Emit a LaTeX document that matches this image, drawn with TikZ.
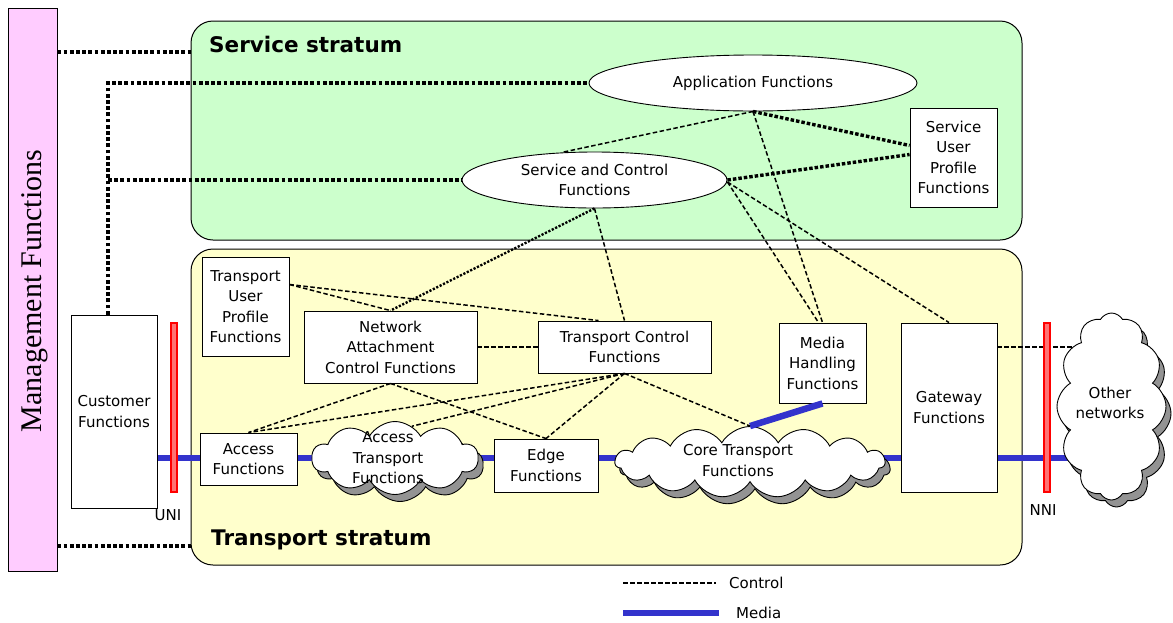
\documentclass[tikz,border=0pt]{standalone}
\usepackage{fontspec}
\setmainfont{DejaVu Sans}
\newfontfamily\mgmtserif{Liberation Serif}
\usetikzlibrary{shapes.geometric,shapes.symbols,shadows}
\definecolor{svcgreen}{HTML}{CCFFCC}
\definecolor{trsyellow}{HTML}{FFFFCC}
\definecolor{mgmtpink}{HTML}{FFCCFF}
\definecolor{mediablue}{HTML}{3333CC}
\pgfdeclarelayer{back}
\pgfdeclarelayer{mid}
\pgfsetlayers{back,mid,main}
\tikzset{
  txt/.style={font=\fontsize{15}{20.5}\selectfont, align=center},
  box/.style={txt, rectangle, draw=black, line width=0.9pt, fill=white, inner sep=0pt},
  oval/.style={txt, ellipse, draw=black, line width=0.9pt, fill=white, inner sep=0pt},
  stratum/.style={rectangle, draw=black, line width=1pt, rounded corners=22pt, inner sep=0pt},
  title/.style={font=\fontsize{21.5}{24}\selectfont\bfseries, anchor=base west, inner sep=0pt},
  cloudy/.style={cloud, cloud puffs=#1, cloud puff arc=120, cloud ignores aspect, draw=black, line width=0.9pt, fill=white, inner sep=0pt,
     drop shadow={shadow xshift=5pt, shadow yshift=-7pt, fill=gray!85, draw=black, opacity=1}},
  mgmtline/.style={line width=4pt, dash pattern=on 3.8pt off 2.4pt},
  ctrl/.style={line width=1.5pt, dash pattern=on 4.5pt off 2.5pt},
  heavy/.style={line width=3.4pt, dash pattern=on 3.5pt off 2pt},
  rounddot/.style={line width=2.4pt, dash pattern=on 2.2pt off 1.6pt},
  thickdash/.style={line width=2.2pt, dash pattern=on 4.5pt off 2.5pt},
  media/.style={line width=6.5pt, draw=mediablue},
  iface/.style={rectangle, draw=red, line width=1.6pt, fill=red!55, minimum width=5.5pt, inner sep=0pt},
}
\begin{document}
\begin{tikzpicture}[x=1pt, y=-1pt]
\useasboundingbox (0,0) rectangle (1173,622);

% strata
\begin{pgfonlayer}{back}
  \node[stratum, fill=svcgreen, minimum width=831, minimum height=219] (svc) at (606.5,130.5) {};
  \node[stratum, fill=trsyellow, minimum width=831, minimum height=316] (trs) at (606.5,407) {};
\end{pgfonlayer}
\node[title] (svctitle) at (209,52) {Service stratum};
\node[title] (trstitle) at (211,545) {Transport stratum};

% management
\node[rectangle, draw=black, line width=0.9pt, fill=mgmtpink, minimum width=49, minimum height=563, inner sep=0pt] (mgmt) at (32.5,289.5) {};
\node[rotate=90, inner sep=0pt, font=\mgmtserif\fontsize{30}{32}\selectfont] (mgmttext) at (35,291) {Management Functions};

% service stratum nodes
\node[oval, minimum width=328, minimum height=56] (app) at (753,83) {Application Functions};
\node[oval, minimum width=265, minimum height=56] (scf) at (594.5,180) {Service and Control\\Functions};
\node[box, minimum width=87, minimum height=99] (supf) at (953.5,157.5) {Service\\User\\Profile\\Functions};

% transport stratum nodes
\node[box, minimum width=86, minimum height=193] (cust) at (114,411.5) {Customer\\Functions};
\node[box, minimum width=87, minimum height=99] (tupf) at (245.5,306.5) {Transport\\User\\Profile\\Functions};
\node[box, minimum width=173, minimum height=72] (nacf) at (390.5,347) {Network\\Attachment\\Control Functions};
\node[box, minimum width=173, minimum height=52] (tcf) at (624.5,347) {Transport Control\\Functions};
\node[box, minimum width=87, minimum height=80] (mhf) at (822.5,363) {Media\\Handling\\Functions};
\node[box, minimum width=96, minimum height=169] (gw) at (949,407.5) {Gateway\\Functions};
\node[box, minimum width=97, minimum height=52] (acc) at (248.5,459) {Access\\Functions};
\node[box, minimum width=104, minimum height=53] (edge) at (546,465.5) {Edge\\Functions};

\node[cloudy=10, minimum width=166, minimum height=73] (atf) at (395,458) {};
\node[txt, inner sep=0pt] (atftext) at (388,458) {Access\\Transport\\Functions};
\node[cloudy=15, minimum width=270, minimum height=71] (ctf) at (750,462) {};
\node[txt, inner sep=0pt] (ctftext) at (738,460.5) {Core Transport\\Functions};
\node[cloudy=12, minimum width=109, minimum height=187] (other) at (1111.5,406.5) {};
\node[txt, inner sep=0pt] (othertext) at (1110,403) {Other\\networks};

% interfaces
\node[iface, minimum height=169] (uni) at (174,407.5) {};
\node[txt, inner sep=0pt] (unitext) at (168,515) {UNI};
\node[iface, minimum height=169] (nni) at (1047,407.5) {};
\node[txt, inner sep=0pt] (nnitext) at (1043,510) {NNI};

% media line and gateway link (beneath nodes)
\coordinate (ymed) at (0,458);
\coordinate (ycl) at (0,347);
\begin{pgfonlayer}{mid}
  \draw[media] (cust.east |- ymed) -- (other.center |- ymed);
  \draw[ctrl] (gw.east |- ycl) -- (other.center |- ycl);
\end{pgfonlayer}
\draw[media] (mhf.south) -- (ctf.north);

% management links
\coordinate (ytop) at (0,52);
\coordinate (ybot) at (0,546);
\coordinate (cjoin) at (108,180);
\draw[mgmtline] (mgmt.east |- ytop) -- (svc.west |- ytop);
\draw[mgmtline] (mgmt.east |- ybot) -- (trs.west |- ybot);
\draw[mgmtline] (cust.north -| cjoin) |- (app.west);
\draw[mgmtline] (cjoin) -- (scf.west);

% service stratum control
\draw[ctrl] (app.south) -- (scf.140);
\draw[heavy] (app.south) -- ([yshift=12pt]supf.west);
\draw[heavy] (scf.east) -- ([yshift=3pt]supf.west);
\draw[ctrl] (app.south) -- (mhf.north);
\draw[ctrl] ([yshift=-2pt]scf.east) -- ([xshift=-4pt]mhf.north);
\draw[ctrl] ([yshift=-2pt]scf.east) -- (gw.north);
\draw[rounddot] (scf.south) -- (nacf.north);
\draw[ctrl] (scf.south) -- (tcf.north);

% transport stratum control
\coordinate (tupfout) at ([yshift=22pt]tupf.east);
\draw[ctrl] (tupfout) -- (nacf.north);
\draw[ctrl] (tupfout) -- ([xshift=-26pt]tcf.north);
\draw[thickdash] (nacf.east) -- (tcf.west);
\draw[ctrl] (nacf.south) -- (acc.north);
\draw[ctrl] (nacf.south) -- (edge.north);
\draw[ctrl] (tcf.south) -- (acc.north);
\draw[ctrl] (tcf.south) -- (atf.62);
\draw[ctrl] (tcf.south) -- (edge.north);
\draw[ctrl] (tcf.south) -- (ctf.north);

% legend
\coordinate (lgc1) at (623,583);
\coordinate (lgc2) at (716,583);
\draw[ctrl] (lgc1) -- (lgc2);
\node[txt, anchor=west, inner sep=0pt] (lgctext) at (729,583) {Control};
\coordinate (lgm1) at (623,613);
\coordinate (lgm2) at (719,613);
\draw[media] (lgm1) -- (lgm2);
\node[txt, anchor=west, inner sep=0pt] (lgmtext) at (736,613) {Media};
\end{tikzpicture}
\end{document}
